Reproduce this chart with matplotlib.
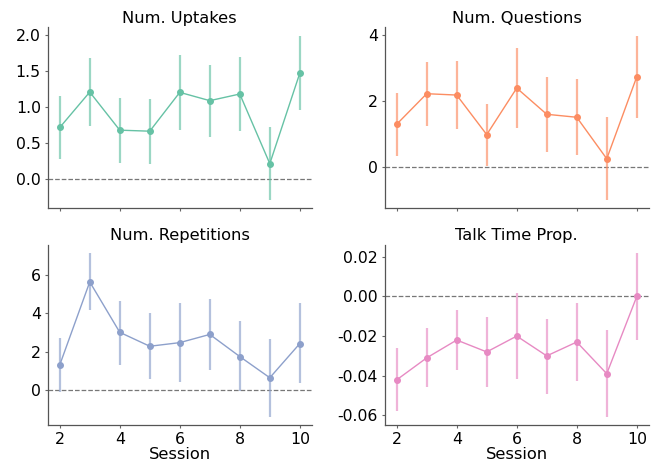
import matplotlib
matplotlib.use("Agg")
import matplotlib.pyplot as plt
import numpy as np

sessions = [2, 3, 4, 5, 6, 7, 8, 9, 10]

titles = ["Num. Uptakes", "Num. Questions", "Num. Repetitions", "Talk Time Prop."]
colors = ["#66c2a5", "#fc8d62", "#8da0cb", "#e78ac3"]

uptakes_mean = [0.716, 1.206, 0.679, 0.665, 1.202, 1.087, 1.179, 0.216, 1.468]
uptakes_hi = [1.147, 1.674, 1.128, 1.115, 1.720, 1.587, 1.688, 0.716, 1.986]
uptakes_lo = [0.284, 0.734, 0.220, 0.211, 0.683, 0.583, 0.665, -0.284, 0.959]

questions_mean = [1.303, 2.226, 2.185, 0.990, 2.396, 1.604, 1.514, 0.260, 2.737]
questions_hi = [2.256, 3.180, 3.210, 1.930, 3.610, 2.730, 2.660, 1.510, 3.980]
questions_lo = [0.351, 1.260, 1.170, 0.040, 1.190, 0.470, 0.370, -0.980, 1.500]

reps_mean = [1.30, 5.65, 3.01, 2.28, 2.47, 2.90, 1.74, 0.63, 2.42]
reps_hi = [2.70, 7.17, 4.66, 4.00, 4.52, 4.77, 3.58, 2.68, 4.52]
reps_lo = [-0.10, 4.16, 1.32, 0.56, 0.42, 1.06, -0.09, -1.43, 0.33]

talk_mean = [-0.0421, -0.0310, -0.0220, -0.0280, -0.0200, -0.0300, -0.0230, -0.0390, 0.0000]
talk_hi = [-0.0260, -0.0159, -0.0070, -0.0102, 0.0018, -0.0112, -0.0032, -0.0171, 0.0220]
talk_lo = [-0.0580, -0.0459, -0.0369, -0.0459, -0.0419, -0.0490, -0.0429, -0.0609, -0.0220]

means = [uptakes_mean, questions_mean, reps_mean, talk_mean]
his = [uptakes_hi, questions_hi, reps_hi, talk_hi]
los = [uptakes_lo, questions_lo, reps_lo, talk_lo]

plt.rcParams['font.family'] = ['DejaVu Sans']
fig, axes = plt.subplots(2, 2, figsize=(6.54, 4.65), dpi=100, sharex=True)
fig.subplots_adjust(left=0.073, right=0.992, top=0.941, bottom=0.0854, hspace=0.203, wspace=0.276)

for ax, t, c, m, hi, lo in zip(axes.flat, titles, colors, means, his, los):
    m = np.array(m); hi = np.array(hi); lo = np.array(lo)
    ax.vlines(sessions, lo, hi, color=c, alpha=0.65, linewidth=1.6, zorder=2)
    ax.plot(sessions, m, color=c, linewidth=1.0, marker='o', markersize=4, zorder=3)
    ax.axhline(0, color='#777777', linestyle='--', linewidth=0.9, zorder=1)
    ax.set_title(t, fontsize=11.7, pad=3.5)
    ax.tick_params(labelsize=11.3, color='#666666', width=0.8, length=2, pad=3)
    for s in ['top', 'right']:
        ax.spines[s].set_visible(False)
    for s in ['left', 'bottom']:
        ax.spines[s].set_color('#555555')
        ax.spines[s].set_linewidth(0.9)
    ax.set_xticks([2, 4, 6, 8, 10])

axes[0, 0].set_yticks([0.0, 0.5, 1.0, 1.5, 2.0])
axes[0, 1].set_yticks([0, 2, 4])
axes[1, 0].set_yticks([0, 2, 4, 6])
axes[1, 1].set_yticks([-0.06, -0.04, -0.02, 0.00, 0.02])
axes[1, 1].yaxis.set_major_formatter(matplotlib.ticker.FormatStrFormatter('%.2f'))
axes[0, 0].yaxis.set_major_formatter(matplotlib.ticker.FormatStrFormatter('%.1f'))
for ax in axes[1]:
    ax.set_xlabel("Session", fontsize=11.7, labelpad=0)

fig.savefig("out.png", dpi=100)
